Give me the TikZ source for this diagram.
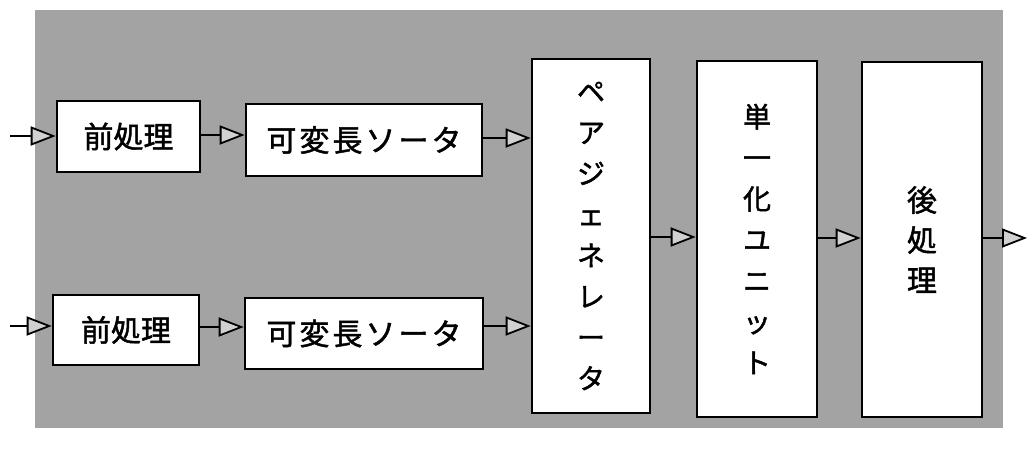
\documentclass[tikz,border=0pt]{standalone}
\usepackage{fontspec}
\newfontfamily\cjk[FakeBold=1.5]{Noto Sans CJK JP}
\usetikzlibrary{arrows.meta}
\tikzset{
  blk/.style={draw=black, line width=2.6pt, fill=white, inner sep=0pt, anchor=center,
    font=\cjk\fontsize{30}{36}\selectfont},
  vblk/.style={blk, align=center, font=\cjk\fontsize{28}{41}\selectfont},
  conn/.style={draw=black, line width=2.2pt,
    -{Triangle[length=25pt,width=19pt,fill=black!18,line width=1.8pt]}},
}
\begin{document}
\begin{tikzpicture}[x=1pt,y=-1pt]
\useasboundingbox (0,0) rectangle (1029,459);
\fill[black!36] (35,10) rectangle (1003,428);
% boxes
\node[blk, minimum width=143pt, minimum height=71pt] (pre1) at (128.5,136.5) {前処理};
\node[blk, minimum width=236pt, minimum height=72pt] (sort1) at (364,140) {可\kern3pt 変\kern3pt 長\kern3pt ソ\kern3pt ー\kern3pt タ};
\node[blk, minimum width=146pt, minimum height=70pt] (pre2) at (126,330) {前処理};
\node[blk, minimum width=238pt, minimum height=71pt] (sort2) at (364,333.5) {可\kern3pt 変\kern3pt 長\kern3pt ソ\kern3pt ー\kern3pt タ};
\node[vblk, minimum width=118pt, minimum height=354pt] (gen) at (591,236) {ペ\\ア\\ジ\\ェ\\ネ\\レ\\ー\\タ};
\node[vblk, minimum width=120pt, minimum height=356pt] (unit) at (757,239) {単\\一\\化\\ユ\\ニ\\ッ\\ト};
\node[vblk, minimum width=120pt, minimum height=355pt, font=\cjk\fontsize{30}{40}\selectfont] (post) at (922,239.5) {後\\処\\理};
% free ends
\coordinate (in1) at (10,136);
\coordinate (in2) at (10,326);
\coordinate (out) at (1027,238);
% connectors
\draw[conn] (in1) -- (pre1.west |- in1);
\draw[conn] (in2) -- (pre2.west |- in2);
\draw[conn] (pre1.east |- 0,135) -- (sort1.west |- 0,135);
\draw[conn] (pre2.east |- 0,327) -- (sort2.west |- 0,327);
\draw[conn] (sort1.east |- 0,138) -- (gen.west |- 0,138);
\draw[conn] (sort2.east |- 0,326) -- (gen.west |- 0,326);
\draw[conn] (gen.east |- 0,237) -- (unit.west |- 0,237);
\draw[conn] (unit.east |- 0,238) -- (post.west |- 0,238);
\draw[conn] (post.east |- out) -- (out);
\end{tikzpicture}
\end{document}
